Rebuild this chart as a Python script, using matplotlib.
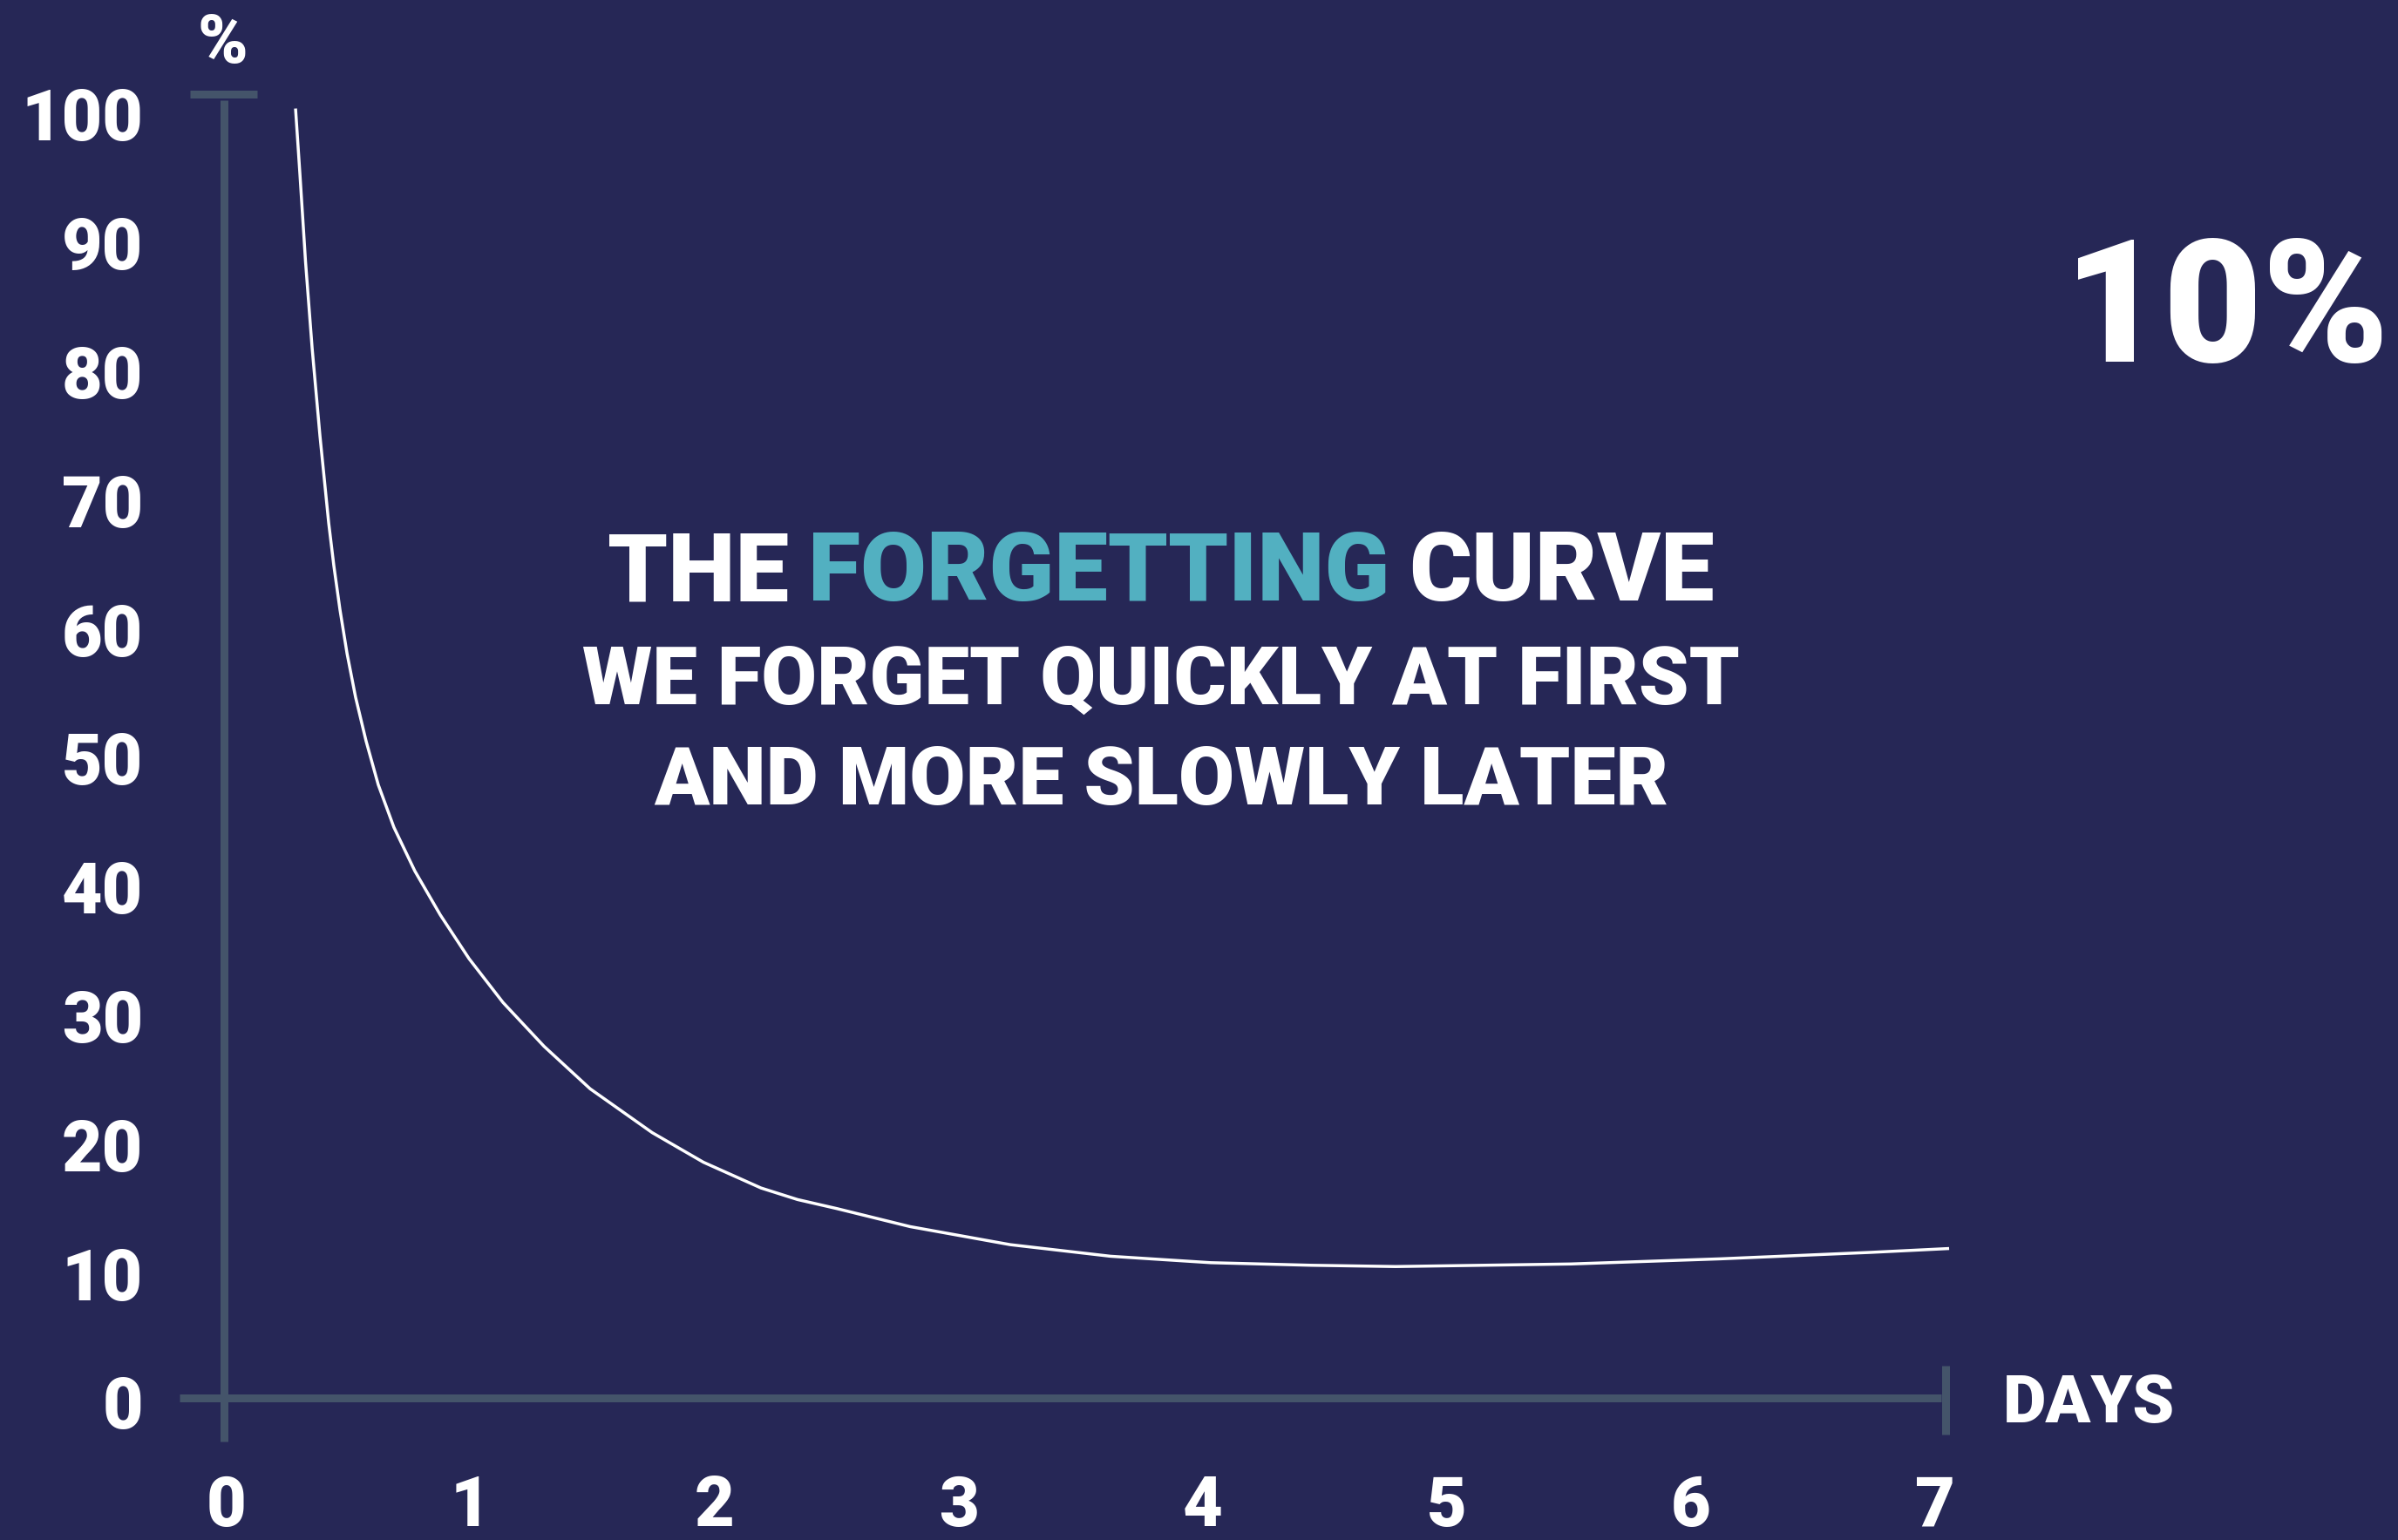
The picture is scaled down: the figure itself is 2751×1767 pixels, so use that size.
import matplotlib
matplotlib.use("Agg")
import matplotlib.pyplot as plt

# ---------------- data ----------------
days = [0.293, 0.311, 0.334, 0.361, 0.393, 0.429, 0.450, 0.475, 0.504, 0.539,
        0.582, 0.632, 0.696, 0.782, 0.886, 1.004, 1.143, 1.311, 1.500, 1.754,
        1.964, 2.200, 2.350, 2.511, 2.811, 3.221, 3.632, 4.043, 4.454, 4.800,
        5.518, 6.132, 6.746, 7.068]
retention = [100.1, 95.0, 88.2, 81.5, 74.7, 67.9, 64.6, 61.2, 57.8, 54.4,
             51.0, 47.6, 44.3, 40.9, 37.5, 34.1, 30.7, 27.3, 24.0, 20.6,
             18.3, 16.3, 15.4, 14.7, 13.3, 11.9, 11.0, 10.5, 10.3, 10.2,
             10.4, 10.8, 11.3, 11.6]
y_ticks = [0, 10, 20, 30, 40, 50, 60, 70, 80, 90, 100]
x_ticks = [0, 1, 2, 3, 4, 5, 6, 7]
title_parts = ["THE", "FORGETTING", "CURVE"]
subtitle_lines = ["WE FORGET QUICKLY AT FIRST", "AND MORE SLOWLY LATER"]
highlight_value = "10%"
y_unit = "%"
x_unit = "DAYS"

# ---------------- style ----------------
BG = "#262756"
AXC = "#44546a"
TEAL = "#52b0c1"
WHITE = "#ffffff"
FONT = ["Roboto", "DejaVu Sans"]
W = 900

W_PX, H_PX = 2751, 1767
DPI = 100
fig = plt.figure(figsize=(W_PX / DPI, H_PX / DPI), dpi=DPI, facecolor=BG)
ax = fig.add_axes([0, 0, 1, 1])
ax.set_facecolor(BG)
ax.axis("off")

# pixel -> data mapping: x_d = (px-257)/280 ; y_d = (1604-py)/14.78
XS, X0 = 280.0, 257.0
YS, Y0 = 14.78, 1604.0
ax.set_xlim((0 - X0) / XS, (W_PX - X0) / XS)
ax.set_ylim((Y0 - H_PX) / YS, (Y0 - 0) / YS)


def px2x(p):
    return (p - X0) / XS


def py2y(p):
    return (Y0 - p) / YS


AX_LW = 9 * 72 / DPI

# y axis line + top cap
ax.plot([0, 0], [py2y(115), py2y(1654)], color=AXC, lw=AX_LW, solid_capstyle="butt", zorder=2)
ax.plot([px2x(218), px2x(295)], [py2y(108.5), py2y(108.5)], color=AXC, lw=AX_LW,
        solid_capstyle="butt", zorder=2)
# x axis line + right cap
ax.plot([px2x(206), px2x(2227)], [0, 0], color=AXC, lw=AX_LW, solid_capstyle="butt", zorder=2)
ax.plot([px2x(2232), px2x(2232)], [py2y(1567), py2y(1646)], color=AXC, lw=AX_LW,
        solid_capstyle="butt", zorder=2)

# curve
ax.plot(days, retention, color=WHITE, lw=2.5, solid_capstyle="butt",
        solid_joinstyle="round", antialiased=True, zorder=3)

# y tick labels
for v in y_ticks:
    ax.text(px2x(164), v - 2.4, str(v), color=WHITE, fontsize=58, family=FONT,
            fontweight=W, ha="right", va="baseline")
# x tick labels
for d in x_ticks:
    ax.text(d + 0.01, py2y(1751), str(d), color=WHITE, fontsize=57, family=FONT,
            fontweight=W, ha="center", va="baseline")

# axis unit labels
ax.text(px2x(255), py2y(72), y_unit, color=WHITE, fontsize=56, family=FONT,
        fontweight=W, ha="center", va="baseline")
ax.text(px2x(2298), py2y(1632), x_unit, color=WHITE, fontsize=55, family=FONT,
        fontweight=W, ha="left", va="baseline")

# big highlight value
ax.text(px2x(2554), py2y(415), highlight_value, color=WHITE, fontsize=141, family=FONT,
        fontweight=W, ha="center", va="baseline")

# title: multi-coloured first line
fig.canvas.draw()
r = fig.canvas.get_renderer()
T1_SIZE = 79
CX = 1332.0
colors = [WHITE, TEAL, WHITE]
objs = [ax.text(0, py2y(689), s, color=c, fontsize=T1_SIZE, family=FONT, fontweight=W,
                ha="left", va="baseline") for s, c in zip(title_parts, colors)]
widths = [o.get_window_extent(r).width for o in objs]
gap = 22.0
total = sum(widths) + gap * (len(widths) - 1)
xcur = CX - total / 2
for o, w in zip(objs, widths):
    o.set_x(px2x(xcur))
    xcur += w + gap

ax.text(px2x(CX), py2y(808), subtitle_lines[0], color=WHITE, fontsize=66.5, family=FONT,
        fontweight=W, ha="center", va="baseline")
ax.text(px2x(CX), py2y(923), subtitle_lines[1], color=WHITE, fontsize=67, family=FONT,
        fontweight=W, ha="center", va="baseline")

fig.savefig("out.png", dpi=DPI, facecolor=BG)
